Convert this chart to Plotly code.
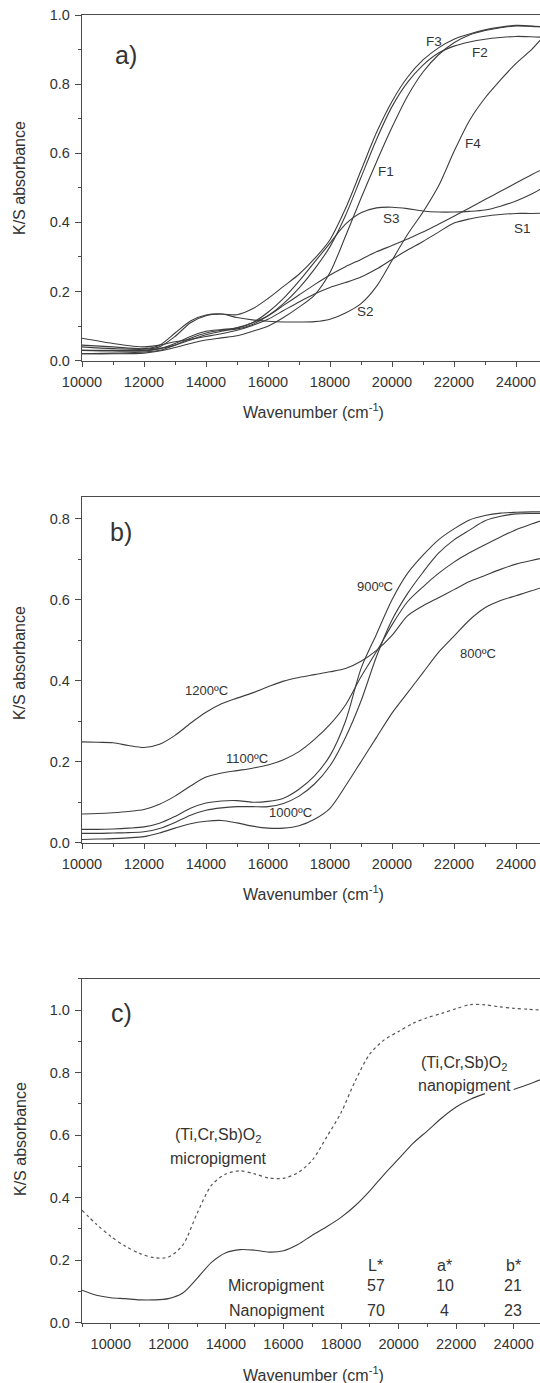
import plotly.graph_objects as go

# ---------------- data ----------------
# Panel a) wavenumber grid (cm-1) and K/S values
wn_a = [10000, 11000, 12000, 12500, 13000, 13500, 14000, 14500, 15000, 15500,
        16000, 16500, 17000, 17500, 18000, 18500, 19000, 19500, 20000, 20500,
        21000, 21500, 22000, 22500, 23000, 23500, 24000, 24500, 25000]
ks_F1 = [0.020, 0.020, 0.022, 0.028, 0.038, 0.050, 0.060, 0.066, 0.072, 0.085,
         0.100, 0.125, 0.155, 0.190, 0.255, 0.360, 0.470, 0.575, 0.675, 0.765,
         0.835, 0.885, 0.920, 0.942, 0.955, 0.963, 0.968, 0.967, 0.965]
ks_F2 = [0.020, 0.022, 0.025, 0.030, 0.045, 0.065, 0.080, 0.088, 0.092, 0.105,
         0.130, 0.165, 0.210, 0.265, 0.330, 0.420, 0.530, 0.640, 0.735, 0.805,
         0.855, 0.890, 0.910, 0.922, 0.930, 0.935, 0.938, 0.937, 0.935]
ks_F3 = [0.040, 0.035, 0.033, 0.040, 0.070, 0.110, 0.130, 0.135, 0.133, 0.150,
         0.180, 0.215, 0.250, 0.295, 0.350, 0.440, 0.550, 0.660, 0.750, 0.820,
         0.870, 0.905, 0.930, 0.945, 0.957, 0.965, 0.970, 0.968, 0.965]
ks_F4 = [0.045, 0.040, 0.035, 0.045, 0.080, 0.115, 0.132, 0.135, 0.125, 0.118,
         0.114, 0.112, 0.112, 0.113, 0.120, 0.138, 0.165, 0.215, 0.290, 0.365,
         0.430, 0.505, 0.605, 0.695, 0.760, 0.812, 0.860, 0.900, 0.950]
ks_S1 = [0.065, 0.050, 0.040, 0.045, 0.055, 0.062, 0.070, 0.078, 0.088, 0.102,
         0.120, 0.145, 0.170, 0.193, 0.212, 0.226, 0.242, 0.265, 0.293, 0.320,
         0.345, 0.372, 0.398, 0.410, 0.418, 0.423, 0.426, 0.426, 0.427]
ks_S2 = [0.030, 0.030, 0.030, 0.035, 0.045, 0.060, 0.075, 0.085, 0.095, 0.110,
         0.130, 0.160, 0.190, 0.220, 0.248, 0.272, 0.293, 0.315, 0.333, 0.352,
         0.372, 0.395, 0.418, 0.442, 0.466, 0.490, 0.514, 0.538, 0.560]
ks_S3 = [0.030, 0.028, 0.028, 0.035, 0.050, 0.070, 0.085, 0.090, 0.095, 0.110,
         0.140, 0.180, 0.230, 0.285, 0.340, 0.395, 0.428, 0.442, 0.444, 0.440,
         0.433, 0.430, 0.430, 0.432, 0.436, 0.447, 0.462, 0.482, 0.508]
series_a = [("F1", ks_F1), ("F2", ks_F2), ("F3", ks_F3), ("F4", ks_F4),
            ("S1", ks_S1), ("S2", ks_S2), ("S3", ks_S3)]

# Panel b) calcination temperatures
wn_b = [10000, 10500, 11000, 11500, 12000, 12500, 13000, 13500, 14000, 14500,
        15000, 15500, 16000, 16500, 17000, 17500, 18000, 18500, 19000, 19500,
        20000, 20500, 21000, 21500, 22000, 22500, 23000, 23500, 24000, 24500, 25000]
ks_800 = [0.008, 0.009, 0.010, 0.012, 0.015, 0.024, 0.036, 0.047, 0.053, 0.055,
          0.049, 0.041, 0.036, 0.036, 0.042, 0.058, 0.085, 0.140, 0.200, 0.260,
          0.320, 0.370, 0.420, 0.470, 0.510, 0.550, 0.580, 0.598, 0.610, 0.622, 0.635]
ks_900 = [0.033, 0.033, 0.034, 0.036, 0.039, 0.048, 0.065, 0.085, 0.098, 0.103,
          0.104, 0.100, 0.102, 0.110, 0.132, 0.165, 0.215, 0.300, 0.430, 0.515,
          0.600, 0.665, 0.710, 0.748, 0.775, 0.797, 0.808, 0.814, 0.816, 0.817, 0.817]
ks_1000 = [0.023, 0.023, 0.024, 0.025, 0.027, 0.035, 0.050, 0.068, 0.080, 0.086,
           0.089, 0.089, 0.089, 0.097, 0.115, 0.145, 0.190, 0.260, 0.350, 0.460,
           0.550, 0.615, 0.668, 0.715, 0.748, 0.772, 0.795, 0.806, 0.812, 0.813, 0.813]
ks_1100 = [0.071, 0.072, 0.074, 0.077, 0.082, 0.095, 0.115, 0.140, 0.162, 0.172,
           0.178, 0.184, 0.192, 0.205, 0.225, 0.255, 0.292, 0.340, 0.410, 0.472,
           0.538, 0.595, 0.632, 0.665, 0.693, 0.716, 0.736, 0.755, 0.773, 0.787, 0.800]
ks_1200 = [0.249, 0.248, 0.247, 0.240, 0.235, 0.243, 0.265, 0.295, 0.322, 0.343,
           0.357, 0.370, 0.385, 0.399, 0.408, 0.415, 0.422, 0.430, 0.448, 0.475,
           0.512, 0.560, 0.585, 0.605, 0.625, 0.645, 0.660, 0.675, 0.688, 0.697, 0.705]
series_b = [("800ºC", ks_800), ("900ºC", ks_900), ("1000ºC", ks_1000),
            ("1100ºC", ks_1100), ("1200ºC", ks_1200)]

# Panel c) micro- vs nanopigment
wn_c = [9000, 9500, 10000, 10500, 11000, 11500, 12000, 12500, 13000, 13500,
        14000, 14500, 15000, 15500, 16000, 16500, 17000, 17500, 18000, 18500,
        19000, 19500, 20000, 20500, 21000, 21500, 22000, 22500, 23000, 23500,
        24000, 24500, 25000]
ks_micro = [0.360, 0.315, 0.276, 0.245, 0.222, 0.208, 0.210, 0.248, 0.350, 0.440,
            0.476, 0.486, 0.476, 0.463, 0.462, 0.480, 0.520, 0.594, 0.672, 0.775,
            0.860, 0.905, 0.932, 0.958, 0.976, 0.990, 1.005, 1.018, 1.017, 1.011,
            1.006, 1.003, 1.000]
ks_nano = [0.104, 0.088, 0.080, 0.077, 0.073, 0.073, 0.077, 0.095, 0.142, 0.193,
           0.224, 0.234, 0.232, 0.226, 0.230, 0.250, 0.280, 0.307, 0.337, 0.375,
           0.422, 0.475, 0.524, 0.574, 0.614, 0.655, 0.690, 0.715, 0.733, None,
           0.746, 0.762, 0.780]

# CIE L*a*b* table
cie_rows = ["Micropigment", "Nanopigment"]
cie_cols = ["L*", "a*", "b*"]
cie_L = [57, 70]
cie_a = [10, 4]
cie_b = [21, 23]

x_ticks = [10000, 12000, 14000, 16000, 18000, 20000, 22000, 24000]
y_ticks = [0.0, 0.2, 0.4, 0.6, 0.8, 1.0]

# ---------------- styling ----------------
W, H = 540, 1383
FONT = "Liberation Sans, Arial, sans-serif"
TXT = "#333333"
AX = "#4a4a4a"
LINE = "#3d3d3d"

def py(p):  # pixel row -> paper y
    return 1 - p / H

left = 82 / W

fig = go.Figure()

for name, vals in series_a:
    fig.add_trace(go.Scatter(x=wn_a, y=vals, mode="lines", name=name,
                             line=dict(color=LINE, width=1.1, shape="spline", smoothing=0.8),
                             xaxis="x", yaxis="y", showlegend=False))
for name, vals in series_b:
    fig.add_trace(go.Scatter(x=wn_b, y=vals, mode="lines", name=name,
                             line=dict(color=LINE, width=1.1, shape="spline", smoothing=0.8),
                             xaxis="x2", yaxis="y2", showlegend=False))
fig.add_trace(go.Scatter(x=wn_c, y=ks_micro, mode="lines", name="micropigment",
                         line=dict(color="#555555", width=1.2, dash="dot", shape="spline", smoothing=0.8),
                         xaxis="x3", yaxis="y3", showlegend=False))
fig.add_trace(go.Scatter(x=wn_c, y=ks_nano, mode="lines", name="nanopigment",
                         line=dict(color=LINE, width=1.1, shape="spline", smoothing=0.8),
                         xaxis="x3", yaxis="y3", showlegend=False))


def xax(rng, anchor):
    return dict(domain=[left, 1], range=rng, anchor=anchor, showline=True, mirror=True,
                linecolor=AX, linewidth=1.4, ticks="outside", ticklen=5, tickwidth=1.2,
                tickcolor=AX, tickvals=x_ticks, tickformat="d", ticklabelstandoff=3,
                showgrid=False, zeroline=False,
                minor=dict(ticks="outside", ticklen=3, tickwidth=1, tickcolor=AX, dtick=1000),
                tickfont=dict(family=FONT, size=14.5, color=TXT), automargin=False)


def yax(dom, rng, anchor):
    return dict(domain=dom, range=rng, anchor=anchor, showline=True, mirror=False,
                linecolor=AX, linewidth=1.4, ticks="outside", ticklen=6, tickwidth=1.2,
                tickcolor=AX, tickvals=[v for v in y_ticks if v <= rng[1]], tickformat=".1f",
                ticklabelstandoff=2, showgrid=False, zeroline=False,
                minor=dict(ticks="outside", ticklen=3, tickwidth=1, tickcolor=AX, dtick=0.1),
                tickfont=dict(family=FONT, size=14.5, color=TXT), automargin=False)

fig.update_layout(
    width=W, height=H, margin=dict(l=0, r=0, t=0, b=0),
    paper_bgcolor="white", plot_bgcolor="white",
    xaxis=xax([10000, 24774], "y"),
    yaxis=yax([py(360.7), py(15)], [0, 1.0], "x"),
    xaxis2=xax([10000, 24774], "y2"),
    yaxis2=yax([py(842.7), py(497.3)], [0, 0.853], "x2"),
    xaxis3=xax([9000, 24913], "y3"),
    yaxis3=yax([py(1322.7), py(978.7)], [0, 1.1008], "x3"),
    showlegend=False,
)

ann = []

def label(x, y, text, xr, yr, size, **kw):
    ann.append(dict(x=x, y=y, xref=xr, yref=yr, text=text, showarrow=False,
                    xanchor="center", yanchor="middle",
                    font=dict(family=FONT, size=size, color=TXT), **kw))

# axis titles (paper coords)
for yc in (178, 663, 1139):
    label(20 / W, py(yc), "K/S absorbance", "paper", "paper", 16, textangle=-90)
for yc in (411, 892.5, 1373.5):
    label(313 / W, py(yc), "Wavenumber (cm<sup>-1</sup>)", "paper", "paper", 16)

# panel letters
label(11410, 0.884, "a)", "x", "y", 25)
label(11271, 0.768, "b)", "x2", "y2", 25)
label(10384, 0.990, "c)", "x3", "y3", 25)

# panel a curve labels
for t, x, y in [("F3", 21350, 0.923), ("F2", 22850, 0.891), ("F4", 22617, 0.629),
                ("F1", 19817, 0.547), ("S3", 19983, 0.412), ("S1", 24200, 0.383),
                ("S2", 19150, 0.142)]:
    label(x, y, t, "x", "y", 13.5)

# panel b curve labels
for t, x, y in [("900ºC", 19463, 0.632), ("800ºC", 22773, 0.468), ("1200ºC", 14020, 0.375),
                ("1100ºC", 15331, 0.208), ("1000ºC", 16719, 0.074)]:
    label(x, y, t, "x2", "y2", 13)

# panel c labels
label(13735, 0.600, "(Ti,Cr,Sb)O<sub>2</sub>", "x3", "y3", 16)
label(13735, 0.526, "micropigment", "x3", "y3", 16)
label(22299, 0.830, "(Ti,Cr,Sb)O<sub>2</sub>", "x3", "y3", 16)
label(22299, 0.760, "nanopigment", "x3", "y3", 16)

col_x = [19209, 21604, 23976]
for cx, ct in zip(col_x, cie_cols):
    label(cx, 0.184, ct, "x3", "y3", 16)
row_y = [0.120, 0.040]
for i, rname in enumerate(cie_rows):
    label(15771, row_y[i], rname, "x3", "y3", 16)
    for cx, v in zip(col_x, (cie_L[i], cie_a[i], cie_b[i])):
        label(cx, row_y[i], str(v), "x3", "y3", 16)

fig.update_layout(annotations=ann)

# remove the default page margin so the 540x1383 figure fills the window exactly
page_js = ("document.documentElement.style.margin='0';"
           "document.body.style.margin='0';"
           "document.body.style.overflow='hidden';")
fig.write_html("out.html", post_script=page_js, config={"displayModeBar": False})
